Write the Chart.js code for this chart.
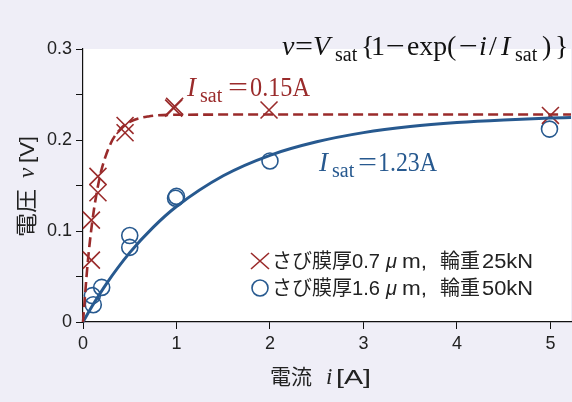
<!DOCTYPE html>
<html><head><meta charset="utf-8">
<script src="https://cdn.jsdelivr.net/npm/chart.js@4"></script>
<style>html,body{margin:0;padding:0;background:#efeef7;}#wrap{width:572px;height:402px;}</style>
</head><body><div id="wrap"><canvas id="c" width="572" height="402"></canvas></div>
<script>
// measured points
const redI = [0.09, 0.09, 0.16, 0.16, 0.45, 0.45, 0.97, 0.98, 1.99, 5.0];
const redV = [0.068, 0.112, 0.142, 0.160, 0.208, 0.216, 0.235, 0.237, 0.233, 0.227];
const blueI = [0.10, 0.11, 0.20, 0.50, 0.50, 0.99, 1.00, 2.00, 4.99];
const blueV = [0.029, 0.019, 0.038, 0.082, 0.095, 0.136, 0.138, 0.177, 0.212];
// fitted curves
const redCurveI = [0, 0.05, 0.1, 0.15, 0.2, 0.3, 0.4, 0.5, 0.7, 1.0, 2.0, 5.22];
const redCurveV = [0, 0.0646, 0.111, 0.144, 0.168, 0.197, 0.212, 0.220, 0.2259, 0.2277, 0.228, 0.228];
const blueCurveI = [0, 0.1, 0.25, 0.5, 0.75, 1.0, 1.5, 2.0, 2.5, 3.0, 3.5, 4.0, 4.5, 5.0, 5.22];
const blueCurveV = [0, 0.0178, 0.042, 0.0762, 0.104, 0.1269, 0.1607, 0.1832, 0.198, 0.2081, 0.2148, 0.2192, 0.2221, 0.2241, 0.2246];
const xTicks = [0, 1, 2, 3, 4, 5];
const yTicks = [0, 0.05, 0.1, 0.15, 0.2, 0.25, 0.3];
const yLabels = ['0', '', '0.1', '', '0.2', '', '0.3'];
const legendLabels = ['さび膜厚0.7μm, 輪重25kN', 'さび膜厚1.6μm, 輪重50kN'];

const RED = '#9a2b2b';
const BLUE = '#27598f';
const zip = (a, b) => a.map((x, i) => ({x, y: b[i]}));

const SERIF = '"Liberation Serif", "DejaVu Serif", serif';
const SANS = '"Liberation Sans", Arial, sans-serif';
const CJK = '"Noto Sans CJK JP", "Liberation Sans", sans-serif';

// draw text at x,y, optionally squeezed/stretched to width w
function put(ctx, t, font, x, y, w) {
  ctx.font = font;
  const m = ctx.measureText(t).width;
  ctx.save();
  ctx.translate(x, y);
  if (w) ctx.scale(w / m, 1);
  ctx.fillText(t, 0, 0);
  ctx.restore();
}

const textPlugin = {
  id: 'texts',
  beforeDraw(chart) {
    const {ctx, chartArea: a} = chart;
    ctx.save();
    ctx.fillStyle = '#ffffff';
    ctx.fillRect(a.left, a.top, a.right - a.left, a.bottom - a.top);
    ctx.restore();
  },
  afterDraw(chart) {
    const {ctx} = chart;
    ctx.save();
    ctx.textBaseline = 'alphabetic';
    ctx.textAlign = 'left';
    const big = '28px ' + SERIF, it = 'italic 28px ' + SERIF, sub = '20px ' + SERIF;
    // equation
    ctx.fillStyle = '#111';
    const b = 55, s = 61;
    put(ctx, 'v', it, 282, b);
    put(ctx, '=', big, 295, b, 18);
    put(ctx, 'V', it, 313, b);
    put(ctx, 'sat', sub, 335, s);
    put(ctx, '{', big, 361, b);
    put(ctx, '1', big, 371, b);
    put(ctx, '\u2212', big, 386, b, 19);
    put(ctx, 'exp', big, 407, b, 40);
    put(ctx, '(', big, 447, b);
    put(ctx, '\u2212', big, 459, b, 19);
    put(ctx, 'i', it, 479, b);
    put(ctx, '/', big, 489, b);
    put(ctx, 'I', it, 501, b);
    put(ctx, 'sat', sub, 515, s);
    put(ctx, ')', big, 542, b);
    put(ctx, '}', big, 555, b);
    // red fit label
    const lb = '27px ' + SERIF, lit = 'italic 27px ' + SERIF;
    ctx.fillStyle = RED;
    put(ctx, 'I', lit, 187, 96);
    put(ctx, 'sat', sub, 200, 102);
    put(ctx, '=', lb, 228, 96, 20);
    put(ctx, '0.15A', lb, 250, 96, 60);
    // blue fit label
    ctx.fillStyle = BLUE;
    put(ctx, 'I', lit, 319, 171);
    put(ctx, 'sat', sub, 332, 177);
    put(ctx, '=', lb, 358, 171, 19);
    put(ctx, '1.23A', lb, 378, 171, 59);
    // legend
    ctx.lineWidth = 1.6;
    ctx.strokeStyle = RED;
    ctx.beginPath();
    ctx.moveTo(251, 253); ctx.lineTo(269, 269); ctx.moveTo(269, 253); ctx.lineTo(251, 269);
    ctx.stroke();
    ctx.strokeStyle = BLUE;
    ctx.beginPath(); ctx.arc(260, 288, 8, 0, Math.PI * 2); ctx.stroke();
    ctx.fillStyle = '#222';
    [[legendLabels[0], 268], [legendLabels[1], 295]].forEach(([lab, y]) => {
      const m = lab.match(/^(\S+?)(\d\.\d)μm, (\S\S)(\S+)$/);
      put(ctx, m[1], '20px ' + CJK, 272, y);
      put(ctx, m[2], '20px ' + SANS, 352, y, 28);
      put(ctx, 'μ', 'italic 20px ' + SANS, 386, y);
      put(ctx, 'm,', '20px ' + SANS, 402, y, 25);
      put(ctx, m[3], '20px ' + CJK, 440, y);
      put(ctx, m[4], '20px ' + SANS, 482, y, 51);
    });
    // x axis title
    ctx.fillStyle = '#222';
    put(ctx, '電流', '21px ' + CJK, 270, 384);
    put(ctx, 'i', 'italic 23px ' + SERIF, 326, 384);
    put(ctx, '[A]', '21px ' + SANS, 336, 384, 35);
    // y axis title (rotated)
    ctx.save();
    ctx.translate(34, 237);
    ctx.rotate(-Math.PI / 2);
    put(ctx, '電圧', '22px ' + CJK, 0, 0, 48);
    put(ctx, 'v', 'italic 23px ' + SERIF, 59, 0);
    put(ctx, '[V]', '21px ' + SANS, 74, 0, 27);
    ctx.restore();
    ctx.restore();
  }
};

new Chart(document.getElementById('c'), {
  type: 'scatter',
  data: {
    datasets: [
      {type: 'line', data: zip(redCurveI, redCurveV), borderColor: RED, borderWidth: 2.6, borderDash: [10, 5], pointRadius: 0, cubicInterpolationMode: 'monotone', fill: false},
      {type: 'line', data: zip(blueCurveI, blueCurveV), borderColor: BLUE, borderWidth: 3, pointRadius: 0, cubicInterpolationMode: 'monotone', fill: false},
      {data: zip(redI, redV), pointStyle: 'crossRot', pointRadius: 12, borderColor: RED, borderWidth: 1.6, backgroundColor: 'transparent'},
      {data: zip(blueI, blueV), pointStyle: 'circle', pointRadius: 8, borderColor: BLUE, borderWidth: 1.6, backgroundColor: 'transparent'}
    ]
  },
  options: {
    responsive: false, animation: false, clip: false,
    layout: {autoPadding: false, padding: {top: 49, right: 1, left: 0, bottom: 0}},
    plugins: {legend: {display: false}, tooltip: {enabled: false}},
    scales: {
      x: {
        type: 'linear', min: 0, max: 5.22,
        afterBuildTicks: s => { s.ticks = xTicks.map(v => ({value: v})); },
        afterFit: s => { s.height = 80; s.paddingRight = 0; s.paddingLeft = 0; },
        ticks: {callback: v => String(v), color: '#222', font: {family: SANS, size: 18}, padding: 4, maxRotation: 0, autoSkip: false},
        grid: {drawOnChartArea: false, tickLength: 7, color: '#111'},
        border: {display: true, color: '#111', width: 1.2}
      },
      y: {
        min: 0, max: 0.3,
        afterBuildTicks: s => { s.ticks = yTicks.map(v => ({value: v})); },
        afterFit: s => { s.width = 83; s.paddingTop = 0; s.paddingBottom = 0; },
        ticks: {callback: (v, i) => yLabels[i], color: '#222', font: {family: SANS, size: 18}, padding: 4, autoSkip: false},
        grid: {drawOnChartArea: false, tickLength: 7, color: '#111'},
        border: {display: true, color: '#111', width: 1.2}
      }
    }
  },
  plugins: [textPlugin]
});
</script></body></html>
